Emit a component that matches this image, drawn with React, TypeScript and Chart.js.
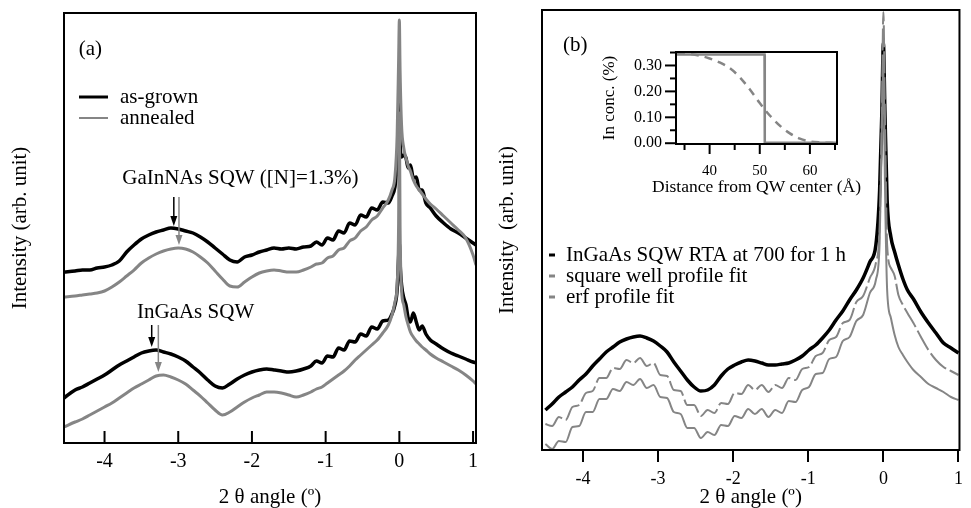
import React, { useEffect, useRef } from 'react';
import { Chart, registerables } from 'chart.js';
Chart.register(...registerables);

const FONT = "'Liberation Serif', 'Times New Roman', serif";
const GRAY = '#858585';

// ---------- Panel (a) data: 2θ angle (deg) vs intensity (arb. unit) ----------
const xA = [-4.55, -4.4, -4.3, -4.2, -4.1, -4.0, -3.9, -3.8, -3.7, -3.6,
  -3.5, -3.4, -3.3, -3.2, -3.1, -3.0, -2.9, -2.8, -2.7, -2.6,
  -2.5, -2.4, -2.3, -2.2, -2.1, -2.0, -1.9, -1.8, -1.7, -1.6,
  -1.5, -1.4, -1.3, -1.2, -1.125, -1.05, -0.975, -0.9, -0.825, -0.75,
  -0.675, -0.6, -0.525, -0.45, -0.375, -0.3, -0.225, -0.15, -0.1, -0.06,
  -0.03, -0.01, 0, 0.01, 0.03, 0.06, 0.09, 0.12, 0.15, 0.19,
  0.23, 0.27, 0.31, 0.36, 0.42, 0.5, 0.6, 0.7, 0.8, 0.9,
  1.0, 1.04];

const asGrownGaInNAs = [171, 172, 173, 173, 175, 176, 178, 182, 191, 198,
  204, 208, 211, 213, 215, 214, 212, 210, 206, 201,
  195, 189, 183, 181, 186, 188, 191, 193, 195, 194,
  195, 194, 196, 197, 201, 198, 205, 203, 212, 210,
  220, 218, 228, 226, 235, 233, 241, 240, 247, 256,
  278, 300, 346, 300, 286, 288, 285, 275, 278, 265,
  266, 253, 253, 240, 235, 227, 220, 214, 210, 205,
  200, 198];

const annealedGaInNAs = [146, 147, 148, 149, 150, 152, 156, 161, 167, 173,
  180, 185, 189, 192, 194, 195, 194, 191, 186, 180,
  172, 164, 157, 156, 161, 166, 170, 172, 173, 172,
  171, 171, 173, 176, 179, 180, 185, 187, 193, 195,
  202, 205, 212, 216, 223, 227, 235, 243, 253, 266,
  308, 383, 423, 373, 318, 295, 285, 277, 272, 263,
  257, 253, 249, 244, 239, 234, 227, 220, 213, 205,
  188, 178];

const asGrownInGaAs = [45, 53, 56, 60, 64, 68, 73, 78, 82, 86,
  90, 92, 93, 91, 89, 86, 82, 76, 70, 63,
  57, 55, 59, 64, 68, 71, 73, 74, 73, 72,
  71, 72, 74, 77, 82, 80, 87, 86, 95, 93,
  102, 101, 109, 107, 116, 114, 122, 123, 129, 138,
  153, 185, 200, 180, 158, 145, 138, 125, 121, 130,
  121, 113, 117, 109, 103, 99, 94, 90, 87, 84,
  81, 80];

const annealedInGaAs = [16, 21, 24, 28, 32, 36, 40, 45, 50, 55,
  59, 63, 67, 68, 66, 63, 59, 53, 47, 40,
  33, 28, 31, 36, 41, 45, 48, 51, 51, 50,
  48, 46, 48, 51, 54, 56, 60, 64, 68, 72,
  77, 83, 88, 93, 98, 103, 110, 118, 128, 141,
  158, 220, 330, 215, 153, 138, 126, 118, 111, 106,
  102, 99, 96, 93, 89, 85, 81, 77, 73, 68,
  62, 59];

const ticksA = [-4, -3, -2, -1, 0, 1];

// ---------- Panel (b) data ----------
const xB = [-4.5, -4.41, -4.32, -4.23, -4.14, -4.05, -3.96, -3.87, -3.78, -3.69,
  -3.6, -3.51, -3.42, -3.33, -3.24, -3.15, -3.06, -2.97, -2.88, -2.79,
  -2.7, -2.61, -2.52, -2.43, -2.34, -2.25, -2.16, -2.07, -1.98, -1.89,
  -1.8, -1.71, -1.62, -1.53, -1.44, -1.35, -1.26, -1.17, -1.08, -0.99,
  -0.9, -0.81, -0.72, -0.63, -0.54, -0.45, -0.36, -0.27, -0.18, -0.1,
  -0.05, -0.02, 0, 0.02, 0.05, 0.1, 0.15, 0.2, 0.26, 0.32,
  0.4, 0.5, 0.6, 0.7, 0.8, 0.9, 1.0];

const measuredB = [40, 46, 53, 58, 63, 70, 76, 84, 91, 98,
  103, 108, 111, 113, 114, 112, 109, 104, 98, 88,
  79, 70, 63, 59, 60, 65, 74, 81, 85, 88,
  90, 89, 87, 85, 85, 86, 87, 90, 94, 100,
  105, 112, 120, 130, 139, 150, 160, 172, 188, 205,
  260, 340, 407, 340, 250, 213, 198, 185, 171, 160,
  151, 138, 127, 117, 107, 102, 97];

const erfFitB = [26, 24, 33, 30, 43, 45, 57, 59, 72, 72,
  82, 81, 90, 87, 92, 84, 87, 75, 74, 60,
  59, 45, 45, 34, 40, 37, 47, 46, 57, 56,
  65, 60, 65, 58, 65, 62, 72, 70, 81, 83,
  94, 97, 110, 113, 127, 130, 148, 154, 172, 187,
  223, 340, 438, 340, 205, 182, 174, 155, 145, 137,
  127, 113, 100, 90, 83, 79, 75];

const squareFitB = [6, 1, 9, 8, 23, 24, 38, 38, 51, 51,
  61, 59, 68, 65, 71, 62, 65, 53, 52, 38,
  36, 22, 22, 12, 18, 15, 25, 24, 34, 32,
  41, 36, 41, 33, 40, 37, 49, 48, 60, 63,
  76, 77, 91, 93, 109, 113, 129, 135, 157, 170,
  207, 320, 390, 270, 160, 132, 115, 103, 95, 88,
  80, 73, 66, 62, 58, 53, 50];

const ticksB = [-4, -3, -2, -1, 0, 1];

// ---------- Inset data: In concentration profile ----------
const insetSquareX = [33.3, 50.95, 51.0, 65.4];
const insetSquareY = [0.342, 0.342, 0.002, 0.002];
const insetErfX = [33.5, 36, 38, 40, 42, 44, 46, 48, 50, 52, 54, 56, 58, 60, 62, 65];
const insetErfY = [0.350, 0.345, 0.338, 0.327, 0.312, 0.290, 0.255, 0.208, 0.155, 0.107, 0.068, 0.038, 0.018, 0.007, 0.003, 0.001];
const insetXTicks = [35, 40, 45, 50, 55, 60, 65];
const insetYTicks = [0, 0.05, 0.1, 0.15, 0.2, 0.25, 0.3, 0.35];
const insetXTitle = 'Distance from QW center (Å)';

// ---------- Annotations (text labels in data coordinates) ----------
const annotA = [
  { text: '(a)', x: -4.35, y: 394 },
  { text: 'GaInNAs SQW ([N]=1.3%)', x: -3.76, y: 265 },
  { text: 'InGaAs SQW', x: -3.56, y: 131 },
];
const arrowsA = [
  { x: -3.06, from: 246, to: 217, color: '#000' },
  { x: -2.99, from: 246, to: 198, color: GRAY },
  { x: -3.36, from: 118, to: 96, color: '#000' },
  { x: -3.27, from: 118, to: 71, color: GRAY },
];
const legendA = [
  { label: 'as-grown', color: '#000', width: 3 },
  { label: 'annealed', color: GRAY, width: 2 },
];
const legendB = [
  { label: 'InGaAs SQW RTA at 700 for 1 h', color: '#000' },
  { label: 'square well profile fit', color: GRAY },
  { label: 'erf profile fit', color: GRAY },
];

function mk(xs: number[], ys: number[]) {
  return xs.map((x, i) => ({ x, y: ys[i] }));
}

function font(size: number) {
  return `${size}px ${FONT}`;
}

function drawArrow(ctx: CanvasRenderingContext2D, px: number, y0: number, y1: number, color: string) {
  ctx.strokeStyle = color;
  ctx.fillStyle = color;
  ctx.lineWidth = 1.5;
  ctx.beginPath();
  ctx.moveTo(px, y0);
  ctx.lineTo(px, y1 - 8);
  ctx.stroke();
  ctx.beginPath();
  ctx.moveTo(px - 3.5, y1 - 10);
  ctx.lineTo(px + 3.5, y1 - 10);
  ctx.lineTo(px, y1);
  ctx.closePath();
  ctx.fill();
}

const panelAPlugin = {
  id: 'panelA',
  afterDraw(chart: any) {
    const { ctx, chartArea: a, scales } = chart;
    const xs = scales.x, ys = scales.y;
    ctx.save();
    ctx.strokeStyle = '#000';
    ctx.lineWidth = 2;
    ctx.strokeRect(a.left, a.top, a.right - a.left, a.bottom - a.top);
    xs.ticks.forEach((t: any) => {
      const px = xs.getPixelForValue(t.value);
      ctx.beginPath();
      ctx.moveTo(px, a.bottom);
      ctx.lineTo(px, a.bottom - 12);
      ctx.stroke();
    });
    ctx.textBaseline = 'middle';
    ctx.textAlign = 'left';
    ctx.font = font(21);
    legendA.forEach((l, i) => {
      const y = a.top + 84 + i * 21;
      ctx.strokeStyle = l.color;
      ctx.lineWidth = l.width;
      ctx.beginPath();
      ctx.moveTo(a.left + 15, y);
      ctx.lineTo(a.left + 44, y);
      ctx.stroke();
      ctx.fillStyle = '#000';
      ctx.fillText(l.label, a.left + 56, y);
    });
    annotA.forEach((t) => {
      ctx.fillStyle = '#000';
      ctx.fillText(t.text, xs.getPixelForValue(t.x), ys.getPixelForValue(t.y));
    });
    arrowsA.forEach((ar) => {
      drawArrow(ctx, xs.getPixelForValue(ar.x), ys.getPixelForValue(ar.from), ys.getPixelForValue(ar.to), ar.color);
    });
    ctx.restore();
  },
};

const panelBPlugin = {
  id: 'panelB',
  afterDraw(chart: any) {
    const { ctx, chartArea: a } = chart;
    ctx.save();
    ctx.strokeStyle = '#000';
    ctx.lineWidth = 2;
    ctx.strokeRect(a.left, a.top, a.right - a.left, a.bottom - a.top);
    ctx.textBaseline = 'middle';
    ctx.textAlign = 'left';
    ctx.font = font(21);
    ctx.fillStyle = '#000';
    ctx.fillText('(b)', a.left + 21, a.top + 35);
    legendB.forEach((l, i) => {
      const y = a.top + 245 + i * 21;
      ctx.strokeStyle = l.color;
      ctx.lineWidth = 3;
      ctx.beginPath();
      ctx.moveTo(a.left + 7, y);
      ctx.lineTo(a.left + 13, y);
      ctx.stroke();
      ctx.fillStyle = '#000';
      ctx.fillText(l.label, a.left + 24, y);
    });
    ctx.restore();
  },
};

const insetPlugin = {
  id: 'inset',
  afterDraw(chart: any) {
    const { ctx, chartArea: a, scales } = chart;
    const xs = scales.x, ys = scales.y;
    ctx.save();
    ctx.strokeStyle = '#000';
    ctx.lineWidth = 2;
    ctx.strokeRect(a.left, a.top, a.right - a.left, a.bottom - a.top);
    insetXTicks.forEach((v) => {
      const px = xs.getPixelForValue(v);
      const len = v % 10 === 0 ? 10 : 6;
      ctx.beginPath();
      ctx.moveTo(px, a.bottom);
      ctx.lineTo(px, a.bottom + len);
      ctx.stroke();
    });
    insetYTicks.forEach((v) => {
      const py = ys.getPixelForValue(v);
      const len = Math.round(v * 100) % 10 === 0 ? 11 : 6;
      ctx.beginPath();
      ctx.moveTo(a.left, py);
      ctx.lineTo(a.left - len, py);
      ctx.stroke();
    });
    ctx.fillStyle = '#000';
    ctx.font = font(17.5);
    ctx.textAlign = 'center';
    ctx.textBaseline = 'middle';
    ctx.fillText(insetXTitle, (a.left + a.right) / 2, a.bottom + 43);
    ctx.restore();
  },
};

export default function App() {
  const refA = useRef<HTMLCanvasElement>(null);
  const refB = useRef<HTMLCanvasElement>(null);
  const refC = useRef<HTMLCanvasElement>(null);

  useEffect(() => {
    Chart.defaults.font.family = FONT;
    Chart.defaults.color = '#000';
    const charts: Chart[] = [];
    const common: any = {
      responsive: false,
      animation: false,
      devicePixelRatio: 1,
      events: [],
      elements: { point: { radius: 0 }, line: { tension: 0.4, cubicInterpolationMode: 'monotone' } },
      plugins: { legend: { display: false }, tooltip: { enabled: false } },
    };

    if (refA.current) {
      charts.push(new Chart(refA.current, {
        type: 'line',
        data: {
          datasets: [
            { label: 'annealed', data: mk(xA, annealedGaInNAs), borderColor: GRAY, borderWidth: 3 },
            { label: 'annealed', data: mk(xA, annealedInGaAs), borderColor: GRAY, borderWidth: 3 },
            { label: 'as-grown', data: mk(xA, asGrownGaInNAs), borderColor: '#000', borderWidth: 3.5 },
            { label: 'as-grown', data: mk(xA, asGrownInGaAs), borderColor: '#000', borderWidth: 3.5 },
          ],
        },
        options: {
          ...common,
          layout: { padding: { left: 0, top: 13, right: 14, bottom: 0 }, autoPadding: false },
          scales: {
            x: {
              type: 'linear', min: -4.55, max: 1.04,
              afterBuildTicks: (s: any) => { s.ticks = ticksA.map((v) => ({ value: v })); },
              afterFit: (s: any) => { s.height = 65; },
              grid: { display: false, drawTicks: false }, border: { display: false },
              ticks: { padding: 9, color: '#000', maxRotation: 0, autoSkip: false, font: { family: FONT, size: 20, lineHeight: 1 }, callback: (v: any) => String(v) },
              title: { display: true, text: '2 θ angle (º)', color: '#000', font: { family: FONT, size: 21, lineHeight: 1 }, padding: { top: 15, bottom: 0 } },
            },
            y: {
              type: 'linear', min: 0, max: 430,
              afterFit: (s: any) => { s.width = 64; },
              grid: { display: false, drawTicks: false }, border: { display: false }, ticks: { display: false },
              title: { display: true, text: 'Intensity (arb. unit)', color: '#000', font: { family: FONT, size: 21, lineHeight: 1 }, padding: { top: 9.5, bottom: 0 } },
            },
          },
        } as any,
        plugins: [panelAPlugin],
      }));
    }

    if (refB.current) {
      charts.push(new Chart(refB.current, {
        type: 'line',
        data: {
          datasets: [
            { label: 'erf profile fit', data: mk(xB, erfFitB), borderColor: GRAY, borderWidth: 2, borderDash: [22, 4] },
            { label: 'square well profile fit', data: mk(xB, squareFitB), borderColor: GRAY, borderWidth: 2 },
            { label: 'InGaAs SQW RTA at 700 for 1 h', data: mk(xB, measuredB), borderColor: '#000', borderWidth: 3.5 },
          ],
        },
        options: {
          ...common,
          layout: { padding: { left: 0, top: 10, right: 1, bottom: 0 }, autoPadding: false },
          scales: {
            x: {
              type: 'linear', min: -4.545, max: 1.013,
              afterBuildTicks: (s: any) => { s.ticks = ticksB.map((v) => ({ value: v })); },
              afterFit: (s: any) => { s.height = 58; },
              grid: { display: true, drawOnChartArea: false, drawTicks: true, tickLength: 12, lineWidth: 2, color: '#000' },
              border: { display: false },
              ticks: { padding: 8, color: '#000', maxRotation: 0, autoSkip: false, font: { family: FONT, size: 18, lineHeight: 1 }, callback: (v: any) => String(v) },
              title: { display: true, text: '2 θ angle (º)', color: '#000', font: { family: FONT, size: 21, lineHeight: 1 }, padding: { top: 0, bottom: 0 } },
            },
            y: {
              type: 'linear', min: 0, max: 440,
              afterFit: (s: any) => { s.width = 52; },
              grid: { display: false, drawTicks: false }, border: { display: false }, ticks: { display: false },
              title: { display: true, text: 'Intensity  (arb. unit)', color: '#000', font: { family: FONT, size: 21, lineHeight: 1 }, padding: { top: 6.5, bottom: 0 } },
            },
          },
        } as any,
        plugins: [panelBPlugin],
      }));
    }

    if (refC.current) {
      charts.push(new Chart(refC.current, {
        type: 'line',
        data: {
          datasets: [
            { label: 'square well', data: mk(insetSquareX, insetSquareY), borderColor: GRAY, borderWidth: 2.5, tension: 0, cubicInterpolationMode: 'default' },
            { label: 'erf', data: mk(insetErfX, insetErfY), borderColor: GRAY, borderWidth: 2.5, borderDash: [8, 6] },
          ],
        },
        options: {
          ...common,
          layout: { padding: { left: 0, top: 7.5, right: 38, bottom: 0 }, autoPadding: false },
          scales: {
            x: {
              type: 'linear', min: 33.3, max: 65.4,
              afterBuildTicks: (s: any) => { s.ticks = insetXTicks.map((v) => ({ value: v })); },
              afterFit: (s: any) => { s.height = 56; },
              grid: { display: false, drawTicks: false }, border: { display: false },
              ticks: { padding: 19.5, color: '#000', maxRotation: 0, autoSkip: false, font: { family: FONT, size: 15, lineHeight: 1 }, callback: (v: any) => (v % 10 === 0 ? String(v) : '') },
              title: { display: false },
            },
            y: {
              type: 'linear', min: -0.003, max: 0.352,
              afterBuildTicks: (s: any) => { s.ticks = insetYTicks.map((v) => ({ value: v })); },
              afterFit: (s: any) => { s.width = 81; },
              grid: { display: false, drawTicks: false }, border: { display: false },
              ticks: { padding: 14, color: '#000', autoSkip: false, font: { family: FONT, size: 16, lineHeight: 1 }, callback: (v: any) => (Math.round(v * 100) % 10 === 0 ? Number(v).toFixed(2) : '') },
              title: { display: true, text: 'In conc. (%)', color: '#000', font: { family: FONT, size: 17, lineHeight: 1 }, padding: { top: 6.5, bottom: 0 } },
            },
          },
        } as any,
        plugins: [insetPlugin],
      }));
    }

    return () => charts.forEach((c) => c.destroy());
  }, []);

  return (
    <div style={{ position: 'absolute', left: 0, top: 0, width: 971, height: 508, background: '#fff', overflow: 'hidden' }}>
      <canvas ref={refA} width={490} height={508} style={{ position: 'absolute', left: 0, top: 0 }} />
      <canvas ref={refB} width={481} height={508} style={{ position: 'absolute', left: 490, top: 0 }} />
      <canvas ref={refC} width={280} height={170} style={{ position: 'absolute', left: 595, top: 30 }} />
    </div>
  );
}
